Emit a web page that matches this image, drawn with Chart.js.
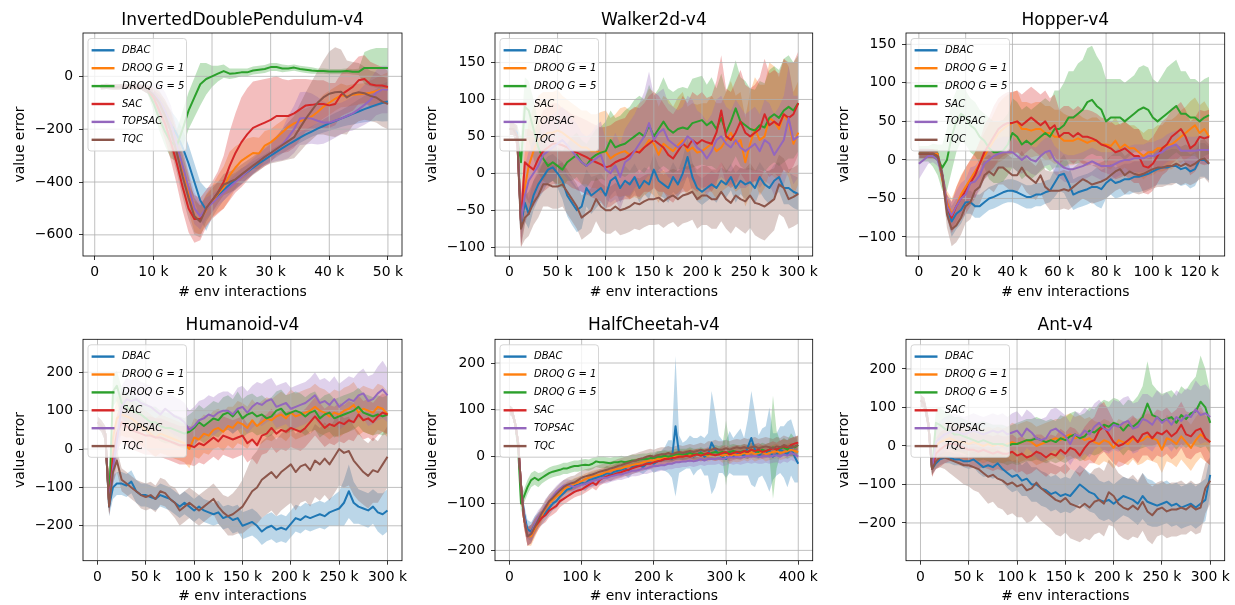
<!DOCTYPE html>
<html>
<head>
<meta charset="utf-8">
<script src="https://cdn.jsdelivr.net/npm/chart.js@4.4.1/dist/chart.umd.min.js"></script>
<style>
  body { margin: 0; background: #fff; }
  .cell { position: absolute; }
</style>
</head>
<body>
<div class="cell" style="left:0;top:0"><canvas id="p0" width="412" height="302"></canvas></div>
<div class="cell" style="left:412px;top:0"><canvas id="p1" width="412" height="302"></canvas></div>
<div class="cell" style="left:824px;top:0"><canvas id="p2" width="411" height="302"></canvas></div>
<div class="cell" style="left:0;top:302px"><canvas id="p3" width="412" height="303"></canvas></div>
<div class="cell" style="left:412px;top:302px"><canvas id="p4" width="412" height="303"></canvas></div>
<div class="cell" style="left:824px;top:302px"><canvas id="p5" width="411" height="303"></canvas></div>
<script>
const methods = ['DBAC', 'DROQ G = 1', 'DROQ G = 5', 'SAC', 'TOPSAC', 'TQC'];
const colors = ['#1f77b4', '#ff7f0e', '#2ca02c', '#d62728', '#9467bd', '#8c564b'];
const bandColors = ['rgba(31,119,180,0.3)', 'rgba(255,127,14,0.3)', 'rgba(44,160,44,0.3)',
  'rgba(214,39,40,0.3)', 'rgba(148,103,189,0.3)', 'rgba(140,86,75,0.3)'];

// env interactions in thousands
const idpSteps = [1,2,3,4,5,6,7,8,9,10,11,12,13,14,15,16,17,18,19,20,21,22,23,24,25,
  26,27,28,29,30,31,32,33,34,35,36,37,38,39,40,41,42,43,44,45,46,47,48,49,50];
const stepsTo300 = [0,4,8,12,16,20,25,30,35,40,45,50,55,60,65,70,75,80,85,90,95,100,105,110,
  115,120,125,130,135,140,145,150,155,160,165,170,175,180,185,190,195,200,205,210,215,220,
  225,230,235,240,245,250,255,260,265,270,275,280,285,290,295,300];
const hpSteps = [0,2,4,6,8,10,12,14,16,18,20,22,24,26,28,30,32,34,36,38,40,42,44,46,48,50,
  52,54,56,58,60,62,64,66,68,70,72,74,76,78,80,82,84,86,88,90,92,94,96,98,100,102,104,106,
  108,110,112,114,116,118,120,122,124];
const hcSteps = [0,4,8,12,16,20,25,30,35,40,45,50,55,60,65,70,75,80,85,90,95,100,105,110,115,
  120,125,130,135,140,145,150,155,160,165,170,175,180,185,190,195,200,205,210,215,220,225,230,
  235,240,245,250,255,260,265,270,275,280,285,290,295,300,305,310,315,320,325,330,335,340,345,
  350,355,360,365,370,375,380,385,390,395,400];

// InvertedDoublePendulum-v4: mean value error and band half-width
const idpDbac = [-40,-38,-40,-40,-38,-40,-40,-42,-50,-70,
  -100,-140,-180,-220,-270,-330,-400,-470,-505,-475,
  -450,-430,-410,-395,-378,-362,-346,-330,-315,-300,
  -286,-272,-258,-245,-232,-220,-209,-198,-188,-178,
  -169,-160,-151,-142,-133,-124,-116,-108,-101,-95];
const idpDbacSd = [10,10,10,10,10,10,10,10,15,20,
  30,40,50,60,70,70,70,70,80,60,
  50,40,35,30,30,25,25,22,20,20,
  20,20,20,20,20,20,20,22,25,28,
  30,32,35,40,45,50,55,60,70,75];
const idpDroq1 = [-40,-38,-40,-40,-38,-40,-40,-42,-50,-65,
  -90,-130,-180,-260,-350,-440,-530,-545,-505,-475,
  -445,-420,-375,-345,-320,-305,-290,-292,-262,-250,
  -232,-212,-192,-178,-170,-162,-152,-135,-115,-100,
  -85,-72,-75,-70,-68,-66,-62,-56,-50,-45];
const idpDroq1Sd = [10,10,10,10,10,10,10,10,15,20,
  30,40,50,60,70,70,60,55,60,60,
  70,80,90,80,70,70,60,60,55,50,
  50,45,45,40,40,40,40,40,45,45,
  45,45,40,40,40,40,45,50,55,60];
const idpDroq5 = [-40,-38,-40,-40,-38,-38,-40,-42,-50,-100,
  -160,-210,-250,-262,-200,-130,-80,-30,-10,0,
  10,20,10,12,15,15,22,25,28,35,
  35,30,30,33,28,25,22,20,20,18,
  18,18,20,17,17,32,32,32,32,32];
const idpDroq5Sd = [10,10,10,10,10,10,10,10,15,30,
  45,55,60,60,70,70,75,80,60,40,
  30,25,20,18,15,15,15,15,15,15,
  15,15,12,12,12,12,12,10,10,10,
  10,10,10,10,12,60,70,75,75,75];
const idpSac = [-40,-38,-40,-40,-38,-40,-40,-42,-50,-80,
  -130,-180,-250,-330,-420,-500,-540,-540,-500,-470,
  -440,-400,-340,-290,-250,-220,-195,-185,-175,-165,
  -150,-150,-150,-140,-125,-110,-108,-105,-105,-110,
  -105,-70,-55,-40,-15,-10,-30,-35,-35,-40];
const idpSacSd = [10,10,10,10,10,10,10,10,15,30,
  45,60,70,80,90,90,90,80,70,70,
  80,100,130,150,170,175,175,170,165,160,
  150,140,135,130,115,100,95,90,90,85,
  80,80,85,90,90,90,85,80,70,60];
const idpTopsac = [-40,-38,-40,-40,-38,-40,-40,-42,-50,-65,
  -90,-130,-180,-260,-340,-420,-500,-530,-500,-480,
  -460,-440,-420,-400,-380,-360,-340,-320,-305,-292,
  -275,-258,-230,-200,-160,-158,-160,-168,-175,-175,
  -167,-160,-150,-140,-125,-108,-90,-62,-50,-50];
const idpTopsacSd = [10,10,10,10,10,10,10,10,15,40,
  60,70,70,60,60,60,60,50,40,35,
  30,30,30,28,28,28,28,28,30,35,
  45,60,80,90,100,100,95,90,80,70,
  65,60,60,65,70,75,80,85,90,90];
const idpTqc = [-40,-38,-40,-40,-38,-40,-40,-42,-50,-70,
  -100,-150,-210,-290,-380,-460,-530,-550,-500,-470,
  -440,-410,-400,-390,-372,-355,-338,-322,-305,-290,
  -275,-260,-245,-230,-195,-160,-130,-100,-80,-66,
  -60,-58,-80,-66,-60,-64,-74,-80,-95,-105];
const idpTqcSd = [10,10,10,10,10,10,10,10,15,30,
  45,60,70,75,80,80,70,60,50,45,
  40,40,40,40,38,36,35,35,35,40,
  50,60,70,80,90,100,110,120,140,160,
  170,160,140,120,110,100,95,95,95,95];

// Walker2d-v4
const wkDbac = [60,60,55,-70,-40,-55,
  -30,-15,-5,5,8,0,-10,-30,-40,-50,
  -45,-20,-30,-25,-20,-30,-10,-5,-20,-10,
  -15,-5,-20,-10,-15,5,-10,-15,-20,-5,
  -15,0,22,-5,-20,-25,-20,-15,-20,-10,
  -15,-5,-20,-10,-15,-12,-20,-5,-15,-20,
  -10,-5,-20,-20,-25,-28];
const wkDbacSd = [8,8,10,25,25,20,
  20,20,20,18,18,20,25,28,30,30,
  30,25,25,22,20,20,20,18,20,20,
  18,18,20,18,20,22,20,18,20,20,
  18,20,25,20,18,18,18,18,20,18,
  18,18,20,18,20,20,22,20,20,22,
  22,20,22,22,22,22];
const wkDroq1 = [60,60,50,-65,-20,10,
  30,45,50,55,55,58,55,50,45,40,
  35,35,30,30,28,30,20,25,28,30,
  25,28,30,35,45,40,25,40,35,30,
  38,45,30,35,28,30,35,40,30,35,
  45,55,40,45,15,40,60,45,50,75,
  70,60,80,70,40,55];
const wkDroq1Sd = [8,8,15,35,50,60,
  60,60,60,55,55,55,50,50,50,50,
  50,50,50,50,55,55,55,55,60,60,
  60,60,65,65,70,70,65,65,65,60,
  65,65,60,60,65,65,60,65,65,60,
  65,70,65,65,60,70,70,75,70,75,
  75,70,75,75,70,70];
const wkDroq5 = [60,60,50,15,90,85,
  60,35,20,10,15,10,5,15,20,25,
  15,10,20,25,28,30,45,35,38,40,
  45,50,55,50,65,50,60,70,60,55,
  60,62,60,68,70,72,65,70,60,75,
  55,70,88,70,65,60,58,65,62,75,
  80,75,85,90,85,95];
const wkDroq5Sd = [8,8,15,35,40,40,
  40,35,30,25,25,25,25,25,30,30,
  30,30,30,35,35,40,40,40,40,45,
  45,50,50,50,55,55,55,60,55,55,
  55,55,55,60,60,60,55,60,55,60,
  55,60,65,60,60,55,55,60,60,65,
  65,65,70,70,65,65];
const wkSac = [60,60,50,-65,15,10,
  5,20,30,35,40,40,38,35,30,28,
  25,22,18,15,12,8,10,15,18,20,
  25,30,28,35,40,45,40,35,25,20,
  30,40,35,45,40,45,42,40,55,85,
  50,45,55,70,55,50,55,60,80,65,
  70,65,80,75,80,95];
const wkSacSd = [8,8,15,35,45,50,
  50,50,55,55,55,55,50,50,50,50,
  50,50,50,50,50,55,55,55,55,55,
  60,60,60,60,65,65,65,60,60,60,
  60,65,60,65,65,65,60,65,70,75,
  65,65,70,70,65,65,65,70,75,70,
  70,70,75,75,70,70];
const wkTopsac = [60,60,50,-65,-30,-10,
  0,10,25,30,35,40,45,38,30,22,
  15,10,15,20,25,5,0,10,-5,15,
  20,30,40,50,68,45,55,60,45,40,
  35,40,50,45,35,30,20,30,45,50,
  40,35,45,35,30,35,40,30,45,40,
  25,35,45,75,45,50];
const wkTopsacSd = [8,8,15,35,40,40,
  45,45,45,45,45,45,45,45,45,45,
  40,40,40,45,45,40,40,45,45,45,
  50,50,55,60,70,60,55,55,50,50,
  50,50,55,55,50,50,50,50,55,55,
  50,50,55,55,50,50,50,50,55,55,
  55,55,60,70,60,55];
const wkTqc = [60,60,50,-75,-60,-55,
  -40,-30,-15,-15,-18,-18,-15,-25,-35,-45,
  -60,-55,-50,-35,-45,-50,-50,-45,-50,-48,
  -45,-40,-42,-38,-35,-35,-33,-38,-33,-30,
  -35,-30,-28,-25,-35,-30,-30,-35,-35,-25,
  -35,-40,-30,-35,-38,-30,-40,-42,-45,-40,
  -35,-15,-20,-35,-32,-28];
const wkTqcSd = [8,8,10,25,30,30,
  30,30,30,30,30,30,30,30,30,30,
  30,30,30,30,32,32,32,32,34,34,
  34,35,35,35,35,35,36,36,36,36,
  38,38,38,38,40,40,40,40,40,40,
  40,42,42,42,44,44,44,46,46,44,
  42,40,40,40,40,40];

// Hopper-v4
const hpDbac = [8,8,8,8,8,-20,-60,-80,-70,-65,
  -55,-55,-60,-60,-55,-50,-48,-45,-42,-40,
  -40,-42,-45,-48,-48,-45,-45,-42,-40,-30,
  -20,-18,-30,-45,-42,-40,-38,-35,-35,-38,
  -30,-25,-30,-28,-25,-25,-22,-22,-20,-18,
  -15,-12,-10,-10,-8,-8,-12,-10,-15,-12,
  0,0,-5];
const hpDbacSd = [6,6,6,6,6,10,15,20,20,18,
  15,15,15,15,15,15,15,15,15,15,
  15,15,15,15,15,15,15,15,15,18,
  20,25,25,20,20,20,20,20,25,25,
  20,20,20,20,20,20,20,20,20,20,
  20,20,22,22,22,22,22,22,22,22,
  22,22,22];
const hpDroq1 = [8,8,8,8,8,-25,-55,-70,-60,-45,
  -35,-25,-15,-5,5,15,25,35,40,45,
  48,50,40,40,38,40,40,35,35,30,
  30,25,25,25,28,25,22,25,25,20,
  20,18,25,15,20,15,15,10,5,10,
  10,15,15,20,20,25,30,35,40,45,
  35,40,30];
const hpDroq1Sd = [6,6,6,6,6,10,15,20,25,25,
  25,25,25,28,30,32,35,38,40,40,
  40,40,35,35,35,35,35,35,35,35,
  35,35,32,32,32,30,30,30,30,30,
  30,30,30,30,30,30,30,30,30,30,
  30,30,30,32,32,32,34,34,36,36,
  36,36,36];
const hpDroq5 = [8,8,8,6,0,-10,0,30,50,60,
  55,45,40,30,25,15,10,10,12,20,
  35,30,20,25,20,25,30,35,30,40,
  40,45,55,55,60,65,75,78,70,65,
  50,55,55,55,50,55,60,65,68,65,
  55,50,55,60,65,70,60,60,55,55,
  50,55,58];
const hpDroq5Sd = [10,10,10,15,20,30,40,45,40,35,
  35,35,35,35,35,40,40,40,40,40,
  45,45,45,45,45,45,45,45,45,50,
  50,55,60,60,65,65,70,70,65,60,
  55,50,50,50,50,50,50,55,55,55,
  50,50,55,60,60,60,55,55,50,50,
  50,50,50];
const hpSac = [8,8,8,8,5,-20,-60,-75,-60,-50,
  -40,-30,-20,-5,10,20,30,40,45,48,
  48,50,45,50,55,50,45,50,40,45,
  30,35,35,30,35,30,30,28,25,20,
  18,15,10,12,15,10,5,5,-8,-10,
  -5,5,15,20,30,35,40,30,15,20,
  30,28,30];
const hpSacSd = [6,6,6,6,6,10,15,20,25,28,
  30,30,30,30,35,35,40,40,40,40,
  40,40,40,40,40,40,40,40,40,40,
  35,35,35,35,35,35,35,35,35,35,
  35,35,35,35,35,35,35,35,35,35,
  35,35,35,35,35,35,35,35,35,35,
  35,35,35];
const hpTopsac = [-5,0,5,5,0,-20,-60,-72,-60,-50,
  -45,-30,-28,-20,-5,0,5,8,10,10,
  10,5,0,5,0,-2,5,10,12,0,
  -5,-10,-12,-12,-10,-8,-5,-2,-5,-8,
  -8,-8,-5,-2,0,0,2,2,2,5,
  5,8,10,15,18,20,12,12,12,12,
  13,13,13];
const hpTopsacSd = [20,15,10,8,8,10,15,18,20,20,
  20,20,20,20,20,20,20,20,20,20,
  20,20,18,18,18,18,18,18,18,18,
  18,18,18,18,18,18,18,18,18,18,
  18,18,18,18,18,18,18,18,18,18,
  18,18,18,18,18,18,18,18,18,18,
  18,18,18];
const hpTqc = [8,8,8,8,5,-20,-70,-90,-85,-75,
  -60,-55,-40,-35,-20,-15,-20,-10,-10,-15,
  -20,-20,-10,-20,-25,-30,-20,-35,-40,-40,
  -40,-38,-40,-35,-30,-25,-28,-32,-30,-28,
  -25,-20,-15,-12,-20,-15,-18,-20,-18,-15,
  -12,-10,-10,-8,-8,-5,-8,-5,-8,-5,
  0,2,-5];
const hpTqcSd = [6,6,6,6,6,12,18,22,22,22,
  22,22,22,22,22,22,22,22,22,22,
  22,22,22,22,22,22,22,22,25,25,
  25,25,25,25,25,25,25,25,25,25,
  25,25,25,25,25,25,25,25,25,25,
  25,25,25,25,25,25,25,25,25,25,
  25,25,25];

// Humanoid-v4
const hmDbac = [70,60,40,-150,-100,-90,
  -90,-95,-85,-110,-120,-120,-125,-130,-120,-125,
  -130,-140,-150,-140,-150,-160,-150,-160,-165,-170,
  -165,-180,-175,-185,-180,-200,-195,-190,-200,-215,
  -205,-200,-210,-205,-210,-195,-180,-185,-175,-180,
  -175,-170,-175,-165,-160,-155,-140,-110,-140,-150,
  -155,-160,-150,-165,-170,-160];
const hmDbacSd = [15,15,20,25,30,30,
  30,30,30,30,30,30,30,30,30,30,
  30,30,30,30,30,30,30,30,30,30,
  30,30,30,35,35,35,35,35,35,35,
  35,35,35,35,35,35,35,35,35,35,
  35,35,35,35,40,45,60,70,55,45,
  45,45,45,50,55,55];
const hmDroq1 = [70,60,40,-140,30,80,
  90,85,80,70,60,50,40,30,40,35,
  30,25,20,15,0,30,25,40,35,50,
  55,45,60,55,70,65,55,75,60,70,
  80,75,85,90,80,95,85,90,95,100,
  110,100,95,85,95,90,100,105,115,95,
  105,100,95,110,105,90];
const hmDroq1Sd = [15,15,20,30,50,55,
  55,55,50,50,50,50,50,50,50,50,
  50,50,50,50,50,50,50,50,50,50,
  50,50,50,55,55,55,55,55,55,55,
  55,55,55,60,60,60,60,60,60,60,
  60,60,60,60,60,60,60,60,60,60,
  60,60,60,60,60,60];
const hmDroq5 = [70,60,40,-140,150,165,
  120,110,100,95,90,80,70,70,60,55,
  55,50,45,40,45,55,70,60,70,80,
  75,90,95,85,100,80,90,95,85,90,
  80,85,100,105,90,95,100,95,85,95,
  100,80,90,95,80,85,90,95,100,110,
  95,90,85,90,85,90];
const hmDroq5Sd = [15,15,20,30,40,40,
  40,40,40,40,40,40,40,40,40,40,
  40,40,40,40,45,45,45,45,45,45,
  45,45,45,45,50,50,50,50,50,50,
  50,50,50,50,50,50,50,50,50,50,
  50,50,50,50,50,50,50,50,50,50,
  50,50,50,50,50,50];
const hmSac = [70,60,40,-140,-20,40,
  70,60,50,45,40,35,35,30,30,25,
  20,15,10,10,10,5,15,10,20,30,
  20,35,30,25,30,35,15,25,10,35,
  40,55,40,50,45,55,50,45,55,70,
  85,70,55,65,60,70,65,75,70,90,
  75,80,70,85,95,90];
const hmSacSd = [15,15,20,30,50,50,
  50,50,50,50,50,50,50,50,50,50,
  50,50,50,50,50,50,50,50,50,50,
  50,50,50,50,50,50,50,50,50,50,
  50,50,50,50,50,50,50,50,50,50,
  50,50,50,50,50,50,50,50,50,50,
  50,50,50,50,50,50];
const hmTopsac = [70,60,40,-140,-50,20,
  110,130,125,130,120,115,110,100,90,105,
  95,85,80,70,50,60,75,80,90,85,
  95,100,100,90,105,110,95,110,120,115,
  125,130,110,115,120,105,110,115,120,130,
  140,120,125,115,130,110,120,130,125,140,
  145,125,130,145,155,140];
const hmTopsacSd = [15,15,20,30,50,55,
  55,55,55,55,55,55,55,50,50,50,
  50,50,50,50,50,50,50,50,50,50,
  50,50,50,50,55,55,55,55,55,55,
  55,55,55,55,55,55,55,55,55,55,
  60,60,60,60,60,60,60,60,60,60,
  65,65,65,70,75,70];
const hmTqc = [70,60,40,-150,-60,-30,
  -80,-90,-100,-110,-120,-125,-120,-130,-110,-115,
  -130,-140,-160,-150,-140,-150,-160,-150,-140,-130,
  -150,-165,-175,-170,-160,-150,-130,-110,-100,-80,
  -70,-60,-75,-60,-50,-40,-60,-45,-40,-55,
  -30,-40,-25,-40,-20,0,-10,-5,-30,-45,
  -60,-70,-55,-60,-40,-20];
const hmTqcSd = [15,15,20,25,30,30,
  30,30,30,30,35,35,35,35,35,35,
  35,40,40,40,40,40,40,40,40,40,
  45,45,50,55,60,70,80,90,95,100,
  100,100,100,100,100,100,100,95,95,95,
  95,95,95,95,95,95,90,90,90,90,
  85,85,85,80,80,80];

// HalfCheetah-v4
const hcDbac = [100,95,70,30,-60,-120,
  -155,-160,-145,-135,-130,-120,-110,-100,-95,-85,
  -78,-70,-68,-62,-60,-55,-58,-50,-48,-45,
  -42,-40,-35,-38,-32,-30,-28,-25,-30,-22,
  -20,-18,-22,-15,-12,-15,-10,-8,-5,0,
  -5,65,5,0,5,10,0,5,10,0,
  5,30,15,5,0,-5,10,0,5,10,
  0,20,40,15,0,10,5,15,0,5,
  15,10,5,20,0,-15];
const hcDbacSd = [10,10,10,15,20,20,
  20,20,18,16,15,15,15,15,15,15,
  15,15,15,15,15,15,15,15,15,15,
  15,15,15,15,15,15,15,15,15,15,
  15,15,15,15,15,20,20,20,25,35,
  40,150,40,30,30,35,40,35,35,40,
  45,110,80,40,35,40,45,40,45,50,
  40,60,100,80,45,50,60,90,50,45,
  50,55,70,60,55,40];
const hcDroq1 = [100,95,70,30,-60,-130,
  -170,-170,-155,-140,-125,-110,-100,-92,-85,-80,
  -70,-65,-62,-58,-55,-52,-48,-45,-42,-40,
  -38,-35,-32,-30,-28,-26,-25,-22,-20,-18,
  -16,-15,-12,-10,-8,-8,-5,-5,-3,-2,
  0,0,2,0,3,5,2,5,3,5,
  2,5,3,5,2,5,0,5,3,5,
  8,5,10,5,8,10,5,8,10,12,
  8,10,12,15,12,10];
const hcDroq1Sd = [10,10,10,15,20,20,
  20,20,18,16,15,15,14,14,13,13,
  12,12,12,12,12,12,12,12,12,12,
  12,12,12,12,12,12,12,12,12,12,
  12,12,12,12,12,12,12,12,12,12,
  12,12,12,12,12,12,12,12,12,12,
  12,12,12,12,15,15,15,15,15,15,
  15,15,15,15,15,15,15,15,15,15,
  15,15,15,15,15,15];
const hcDroq5 = [100,95,70,20,-100,-85,
  -65,-50,-45,-50,-45,-40,-35,-32,-30,-28,
  -25,-25,-22,-20,-20,-18,-17,-18,-15,-10,
  -12,-12,-13,-14,-12,-12,-10,-12,-10,-8,
  -8,-6,-5,-5,-3,-3,0,0,2,0,
  2,5,5,5,5,8,5,5,8,5,
  5,8,10,8,10,8,10,12,10,10,
  12,10,15,12,10,15,12,15,20,15,
  18,20,15,25,20,25];
const hcDroq5Sd = [10,10,10,15,20,15,
  15,15,15,15,12,12,12,12,12,12,
  12,12,12,12,12,12,12,12,12,12,
  12,12,12,12,12,12,12,12,12,12,
  12,12,12,12,12,12,12,12,12,12,
  12,12,12,12,12,12,12,12,12,12,
  12,15,15,15,15,70,15,15,15,15,
  15,15,15,15,15,15,15,15,110,40,
  15,20,20,25,20,20];
const hcSac = [100,95,70,30,-60,-130,
  -170,-165,-150,-140,-130,-125,-115,-110,-105,-95,
  -90,-85,-80,-75,-72,-70,-65,-60,-55,-60,
  -50,-45,-42,-40,-38,-35,-33,-30,-28,-25,
  -22,-20,-18,-15,-15,-12,-10,-8,-5,-5,
  -3,-2,0,0,2,0,3,5,2,5,
  8,5,3,5,8,10,5,8,10,8,
  12,10,15,12,15,10,12,15,18,15,
  20,22,20,25,28,30];
const hcSacSd = [10,10,10,15,20,20,
  20,20,18,16,15,15,14,14,13,13,
  12,12,12,12,12,12,12,12,12,12,
  12,12,12,12,12,12,12,12,12,12,
  12,12,12,12,12,12,12,12,12,12,
  12,12,12,12,12,12,12,12,12,12,
  12,12,12,12,15,15,15,15,15,15,
  15,15,15,15,15,15,15,15,15,15,
  15,15,15,15,15,15];
const hcTopsac = [100,95,70,30,-60,-125,
  -170,-165,-145,-130,-120,-105,-95,-85,-75,-68,
  -62,-60,-62,-65,-62,-60,-58,-55,-52,-50,
  -48,-45,-45,-42,-40,-38,-38,-35,-33,-30,
  -30,-28,-25,-25,-22,-20,-20,-18,-18,-15,
  -15,-12,-12,-10,-10,-8,-10,-8,-5,-8,
  -5,-5,-5,-3,-5,-3,0,-2,0,-2,
  0,2,0,2,0,0,2,0,2,3,
  0,5,2,8,5,0];
const hcTopsacSd = [10,10,10,15,20,20,
  20,20,18,16,15,15,14,14,13,13,
  12,12,12,12,12,12,12,12,12,12,
  12,12,12,12,12,12,12,12,12,12,
  12,12,12,12,12,12,12,12,12,12,
  12,12,12,12,12,12,12,12,12,12,
  12,12,12,12,15,15,15,15,15,15,
  15,15,15,15,15,15,15,15,15,15,
  15,15,15,15,15,15];
const hcTqc = [100,95,70,30,-60,-130,
  -170,-165,-150,-135,-120,-108,-95,-88,-80,-72,
  -65,-60,-57,-55,-50,-45,-42,-40,-38,-35,
  -32,-30,-28,-25,-23,-20,-18,-15,-13,-10,
  -8,-5,-3,0,2,0,3,5,5,8,
  5,8,10,8,10,12,10,12,15,12,
  15,15,18,15,15,18,15,18,20,18,
  20,18,20,22,18,20,22,20,18,22,
  20,25,22,20,22,25];
const hcTqcSd = [10,10,10,15,20,20,
  20,20,18,16,15,15,15,15,15,15,
  15,15,15,15,15,15,15,15,15,15,
  15,15,15,15,15,15,15,15,15,15,
  15,15,15,15,15,15,15,15,15,15,
  15,15,15,15,15,15,15,15,15,15,
  18,18,18,18,18,18,18,18,18,18,
  20,20,20,20,20,20,20,20,20,20,
  20,20,20,20,20,20];

// Ant-v4
const anDbac = [118,110,60,-60,-45,-35,
  -30,-30,-35,-35,-40,-40,-35,-45,-55,-50,
  -55,-45,-60,-70,-80,-75,-90,-85,-100,-100,
  -110,-115,-125,-120,-130,-125,-130,-115,-100,-110,
  -120,-125,-140,-145,-140,-150,-140,-130,-135,-140,
  -150,-130,-145,-150,-155,-150,-145,-155,-150,-160,
  -155,-150,-160,-150,-140,-75];
const anDbacSd = [15,15,20,15,15,15,
  15,15,15,15,15,20,20,25,25,30,
  30,35,35,40,40,40,40,45,45,45,
  45,45,45,45,45,45,45,50,50,50,
  50,50,50,50,50,50,50,50,50,55,
  55,60,60,60,55,55,55,55,55,55,
  55,55,55,55,55,50];
const anDroq1 = [118,110,60,-60,0,10,
  15,20,15,10,10,5,10,5,0,5,
  0,5,0,5,10,5,10,15,10,0,
  5,10,15,20,15,25,30,20,25,15,
  20,10,5,15,10,-5,15,10,5,20,
  10,15,25,20,15,-10,20,15,5,25,
  10,-5,15,30,20,10];
const anDroq1Sd = [15,15,20,20,40,45,
  45,45,45,45,45,45,45,45,45,45,
  45,45,45,45,50,50,50,50,50,50,
  50,50,50,50,55,55,55,55,55,55,
  55,55,55,55,55,55,55,55,55,55,
  60,60,60,60,60,60,60,60,60,60,
  60,60,60,60,60,60];
const anDroq5 = [118,110,60,-60,60,55,
  45,40,30,30,25,20,15,10,15,10,
  5,5,5,0,5,5,10,15,15,20,
  15,10,15,10,20,15,25,30,20,25,
  40,35,45,55,50,60,55,40,55,50,
  60,75,110,80,75,65,70,75,60,80,
  70,85,90,115,100,60];
const anDroq5Sd = [15,15,20,20,40,45,
  45,45,45,45,45,45,45,50,50,50,
  50,50,50,50,50,55,55,55,55,55,
  55,55,55,55,60,60,60,60,60,60,
  60,60,65,65,65,65,65,65,65,65,
  70,80,110,80,70,70,70,70,70,75,
  75,80,90,120,100,80];
const anSac = [118,110,60,-60,-20,-10,
  0,5,5,0,-5,-10,-10,-15,-10,-15,
  -20,-15,-20,-20,-15,-25,-20,-30,-25,-15,
  -20,-30,-20,-25,-10,-20,-5,-10,-25,-5,
  10,15,40,50,30,10,0,5,15,25,
  10,30,35,20,35,30,40,25,35,55,
  30,25,40,45,20,10];
const anSacSd = [15,15,20,20,40,45,
  45,45,45,45,45,45,45,45,45,45,
  45,45,45,45,45,45,45,45,45,45,
  50,50,50,50,55,55,55,55,55,55,
  55,60,65,65,60,55,55,55,55,55,
  55,55,60,60,60,60,60,60,60,60,
  60,60,60,60,60,60];
const anTopsac = [118,110,60,-60,10,20,
  30,35,40,35,30,35,40,35,30,35,
  40,35,40,30,35,40,25,45,35,20,
  15,20,40,45,35,25,5,30,25,40,
  30,50,60,45,40,55,50,60,65,45,
  50,70,65,55,75,60,70,55,75,65,
  80,75,95,80,85,75];
const anTopsacSd = [15,15,20,20,40,45,
  45,45,45,45,45,45,45,45,45,45,
  45,45,45,45,50,50,50,50,50,50,
  55,55,55,55,55,55,55,60,60,60,
  60,60,60,60,60,65,65,65,65,65,
  65,65,70,70,70,70,70,70,70,70,
  70,70,75,75,75,70];
const anTqc = [118,110,60,-60,-40,-30,
  -30,-35,-40,-45,-50,-50,-55,-60,-70,-80,
  -75,-85,-90,-100,-95,-105,-100,-115,-110,-95,
  -110,-120,-130,-140,-145,-135,-150,-155,-160,-150,
  -160,-145,-140,-150,-120,-130,-150,-160,-165,-155,
  -165,-145,-170,-180,-165,-160,-170,-165,-165,-160,
  -165,-155,-165,-160,-110,-90];
const anTqcSd = [15,15,20,15,20,25,
  30,35,40,45,50,55,60,60,65,70,
  70,75,75,80,80,80,85,85,85,85,
  85,85,85,90,90,90,90,90,90,90,
  85,85,85,85,85,80,80,80,80,80,
  75,75,75,75,70,70,70,70,70,70,
  65,65,65,65,65,60];

const panels = [
  { id: 'p0', title: 'InvertedDoublePendulum-v4', steps: idpSteps,
    means: [idpDbac, idpDroq1, idpDroq5, idpSac, idpTopsac, idpTqc],
    spreads: [idpDbacSd, idpDroq1Sd, idpDroq5Sd, idpSacSd, idpTopsacSd, idpTqcSd],
    xMin: -2, xMax: 52.4, xTicks: [0, 10, 20, 30, 40, 50],
    yMin: -680, yMax: 164, yTicks: [-600, -400, -200, 0] },
  { id: 'p1', title: 'Walker2d-v4', steps: stepsTo300,
    means: [wkDbac, wkDroq1, wkDroq5, wkSac, wkTopsac, wkTqc],
    spreads: [wkDbacSd, wkDroq1Sd, wkDroq5Sd, wkSacSd, wkTopsacSd, wkTqcSd],
    xMin: -15, xMax: 315, xTicks: [0, 50, 100, 150, 200, 250, 300],
    yMin: -112, yMax: 190, yTicks: [-100, -50, 0, 50, 100, 150] },
  { id: 'p2', title: 'Hopper-v4', steps: hpSteps,
    means: [hpDbac, hpDroq1, hpDroq5, hpSac, hpTopsac, hpTqc],
    spreads: [hpDbacSd, hpDroq1Sd, hpDroq5Sd, hpSacSd, hpTopsacSd, hpTqcSd],
    xMin: -5.5, xMax: 130.7, xTicks: [0, 20, 40, 60, 80, 100, 120],
    yMin: -124.7, yMax: 164.7, yTicks: [-100, -50, 0, 50, 100, 150] },
  { id: 'p3', title: 'Humanoid-v4', steps: stepsTo300,
    means: [hmDbac, hmDroq1, hmDroq5, hmSac, hmTopsac, hmTqc],
    spreads: [hmDbacSd, hmDroq1Sd, hmDroq5Sd, hmSacSd, hmTopsacSd, hmTqcSd],
    xMin: -15, xMax: 315, xTicks: [0, 50, 100, 150, 200, 250, 300],
    yMin: -291, yMax: 286, yTicks: [-200, -100, 0, 100, 200] },
  { id: 'p4', title: 'HalfCheetah-v4', steps: hcSteps,
    means: [hcDbac, hcDroq1, hcDroq5, hcSac, hcTopsac, hcTqc],
    spreads: [hcDbacSd, hcDroq1Sd, hcDroq5Sd, hcSacSd, hcTopsacSd, hcTqcSd],
    xMin: -20, xMax: 420, xTicks: [0, 100, 200, 300, 400],
    yMin: -222, yMax: 250.6, yTicks: [-200, -100, 0, 100, 200] },
  { id: 'p5', title: 'Ant-v4', steps: stepsTo300,
    means: [anDbac, anDroq1, anDroq5, anSac, anTopsac, anTqc],
    spreads: [anDbacSd, anDroq1Sd, anDroq5Sd, anSacSd, anTopsacSd, anTqcSd],
    xMin: -15, xMax: 315, xTicks: [0, 50, 100, 150, 200, 250, 300],
    yMin: -298, yMax: 277, yTicks: [-200, -100, 0, 100, 200] }
];

// frame placement inside each canvas, per row / column
const rowBox = [{ top: 33, axisH: 46, titleY: 20.7 }, { top: 37.3, axisH: 44.3, titleY: 23.5 }];
const colBox = [{ axisW: 83, right: 10 }, { axisW: 83, right: 11.3 }, { axisW: 82, right: 10.3 }];

const tickFont = { family: 'DejaVu Sans', size: 13.9 };

// grid over the bands but under the lines, then legend, spines and title
const panelDecor = {
  id: 'panelDecor',
  beforeDatasetsDraw(chart) {
    const { ctx, chartArea: a, scales } = chart;
    ctx.save();
    ctx.strokeStyle = '#b0b0b0';
    ctx.lineWidth = 0.8;
    ctx.beginPath();
    scales.x.ticks.forEach(t => {
      const px = scales.x.getPixelForValue(t.value);
      ctx.moveTo(px, a.top);
      ctx.lineTo(px, a.bottom);
    });
    scales.y.ticks.forEach(t => {
      const py = scales.y.getPixelForValue(t.value);
      ctx.moveTo(a.left, py);
      ctx.lineTo(a.right, py);
    });
    ctx.stroke();
    ctx.restore();
  },
  afterDatasetsDraw(chart, args, opts) {
    const { ctx, chartArea: a } = chart;
    ctx.save();
    ctx.beginPath();
    ctx.roundRect(a.left + 5, a.top + 5.5, 98.5, 112.5, 3);
    ctx.fillStyle = 'rgba(255,255,255,0.8)';
    ctx.fill();
    ctx.strokeStyle = 'rgba(204,204,204,0.8)';
    ctx.lineWidth = 1;
    ctx.stroke();
    ctx.font = 'italic 10px "DejaVu Sans"';
    ctx.textBaseline = 'middle';
    ctx.textAlign = 'left';
    methods.forEach((name, i) => {
      const y = a.top + 17.3 + i * 17.9;
      ctx.strokeStyle = colors[i];
      ctx.lineWidth = 2.4;
      ctx.beginPath();
      ctx.moveTo(a.left + 8.6, y);
      ctx.lineTo(a.left + 31.5, y);
      ctx.stroke();
      ctx.fillStyle = '#000';
      ctx.fillText(name, a.left + 39, y);
    });
    ctx.strokeStyle = '#000';
    ctx.lineWidth = 0.8;
    ctx.strokeRect(a.left, a.top, a.right - a.left, a.bottom - a.top);
    ctx.font = '17px "DejaVu Sans"';
    ctx.textAlign = 'center';
    ctx.fillText(opts.text, (a.left + a.right) / 2, opts.y);
    ctx.restore();
  }
};

function fmtX(v) {
  return v === 0 ? '0' : v + ' k';
}
function fmtY(v) {
  return v < 0 ? '\u2212' + Math.abs(v) : String(v);
}

panels.forEach((p, n) => {
  const row = rowBox[Math.floor(n / 3)];
  const col = colBox[n % 3];
  const datasets = [];
  p.means.forEach((m, i) => {
    const sd = p.spreads[i];
    if (m.length !== p.steps.length || sd.length !== p.steps.length) {
      throw new Error(p.title + ' / ' + methods[i] + ': ' + m.length + ' ' + sd.length + ' vs ' + p.steps.length);
    }
    const clear = 'rgba(0,0,0,0)';
    datasets.push({ data: p.steps.map((x, k) => ({ x, y: m[k] - sd[k] })),
      borderColor: clear, borderWidth: 0, pointRadius: 0, fill: false, order: 20 - i });
    datasets.push({ data: p.steps.map((x, k) => ({ x, y: m[k] + sd[k] })),
      borderColor: clear, borderWidth: 0, pointRadius: 0, fill: '-1',
      backgroundColor: bandColors[i], order: 20 - i });
    datasets.push({ label: methods[i], data: p.steps.map((x, k) => ({ x, y: m[k] })),
      borderColor: colors[i], borderWidth: 2, pointRadius: 0, fill: false,
      borderJoinStyle: 'round', order: 6 - i });
  });

  new Chart(document.getElementById(p.id), {
    type: 'line',
    data: { datasets },
    plugins: [panelDecor],
    options: {
      responsive: false,
      animation: false,
      events: [],
      layout: { padding: { left: 0, top: row.top, right: col.right, bottom: 0 } },
      plugins: {
        legend: { display: false },
        tooltip: { enabled: false },
        filler: { drawTime: 'beforeDatasetsDraw', propagate: false },
        panelDecor: { text: p.title, y: row.titleY }
      },
      scales: {
        x: {
          type: 'linear', min: p.xMin, max: p.xMax,
          afterBuildTicks: s => { s.ticks = p.xTicks.map(v => ({ value: v })); },
          afterFit: s => { s.height = row.axisH; s.paddingLeft = 0; s.paddingRight = 0; },
          border: { display: false },
          grid: { drawOnChartArea: false, drawTicks: true, tickLength: 4, tickColor: '#000', tickWidth: 0.8 },
          ticks: { autoSkip: false, maxRotation: 0, padding: 4, color: '#000', font: tickFont, callback: fmtX },
          title: { display: true, text: '# env interactions', color: '#000', font: tickFont,
            padding: { top: 0, bottom: n < 3 ? 1.5 : 0 } }
        },
        y: {
          type: 'linear', min: p.yMin, max: p.yMax,
          afterBuildTicks: s => { s.ticks = p.yTicks.map(v => ({ value: v })); },
          afterFit: s => { s.width = col.axisW; s.paddingTop = 0; s.paddingBottom = 0; },
          border: { display: false },
          grid: { drawOnChartArea: false, drawTicks: true, tickLength: 4, tickColor: '#000', tickWidth: 0.8 },
          ticks: { autoSkip: false, padding: 6, color: '#000', font: tickFont, callback: fmtY },
          title: { display: true, text: 'value error', color: '#000', font: tickFont,
            padding: { top: 12, bottom: 0 } }
        }
      }
    }
  });
});
</script>
</body>
</html>
